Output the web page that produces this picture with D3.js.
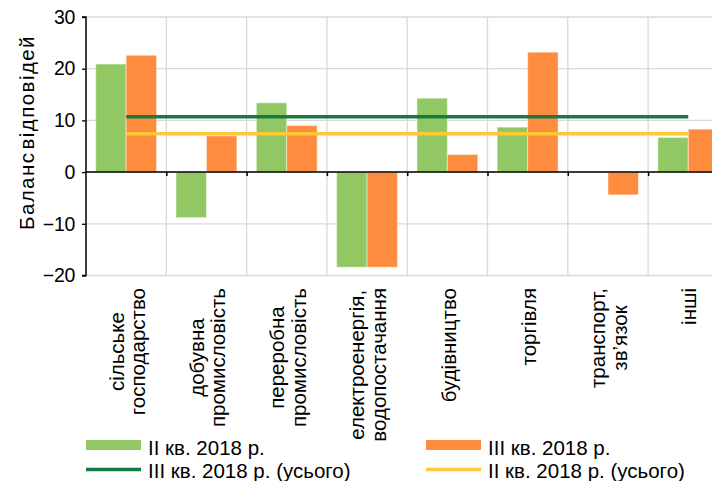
<!DOCTYPE html>
<html><head><meta charset="utf-8">
<script src="https://cdn.jsdelivr.net/npm/d3@7"></script>
<style>
html,body{margin:0;padding:0;background:#fff;overflow:hidden;}
text{font-family:"Liberation Sans",Arial,sans-serif;fill:#000;}
</style></head>
<body>
<svg id="chart" width="712" height="481"></svg>
<script>
const categories = [
  ["сільське","господарство"],
  ["добувна","промисловість"],
  ["переробна","промисловість"],
  ["електроенергія,","водопостачання"],
  ["будівництво"],
  ["торгівля"],
  ["транспорт,","зв’язок"],
  ["інші"]
];
const q2Values = [20.9, -8.8, 13.4, -18.4, 14.3, 8.7, 0, 6.7];
const q3Values = [22.6, 7.0, 9.0, -18.4, 3.4, 23.2, -4.4, 8.3];
const q3Total = [10.7, 10.7, 10.7, 10.7, 10.7, 10.7, 10.7, 10.7];
const q2Total = [7.4, 7.4, 7.4, 7.4, 7.4, 7.4, 7.4, 7.4];
const yTicks = [-20, -10, 0, 10, 20, 30];
const seriesNames = ["II кв. 2018 р.", "III кв. 2018 р.", "III кв. 2018 р. (усього)", "II кв. 2018 р. (усього)"];
const yTitle = "Баланс відповідей";

const C_GREEN = "#92c864", C_ORANGE = "#fd8c3f", C_DGREEN = "#167a45", C_YELLOW = "#fdca35";

const svg = d3.select("#chart");
const ids = categories.map((c,i)=>i);
const x = d3.scaleBand().domain(ids).range([86, 86 + 8*80.3]).padding(0);
const sub = d3.scaleBand().domain(["q2","q3"]).range([0, x.bandwidth()]).paddingInner(0).paddingOuter(0.32);
const y = d3.scaleLinear().domain([-20, 30]).range([275.5, 17]);

// gridlines
const grid = svg.append("g");
grid.selectAll("line.h").data(yTicks).join("line")
  .attr("x1", 86).attr("x2", 740).attr("y1", d=>y(d)).attr("y2", d=>y(d))
  .attr("stroke", "#d9d9d9").attr("stroke-width", 1.3);
grid.selectAll("line.v").data([1,2,3,4,5,6,7,8]).join("line")
  .attr("x1", d=>86 + d*x.step()).attr("x2", d=>86 + d*x.step())
  .attr("y1", y(30)).attr("y2", y(-20))
  .attr("stroke", "#d9d9d9").attr("stroke-width", 1.3);

// bars
const bars = svg.append("g");
const barData = [];
ids.forEach(i => {
  barData.push({i, k:"q2", v:q2Values[i]});
  barData.push({i, k:"q3", v:q3Values[i]});
});
bars.selectAll("rect").data(barData.filter(d=>d.v!==0)).join("rect")
  .attr("x", d=>x(d.i) + sub(d.k))
  .attr("width", sub.bandwidth())
  .attr("y", d=>y(Math.max(0,d.v)))
  .attr("height", d=>Math.abs(y(d.v)-y(0)))
  .attr("fill", d=>d.k==="q2"?C_GREEN:C_ORANGE)
  .attr("stroke", "rgba(255,255,255,0.45)").attr("stroke-width", 1);

// total lines
const line = d3.line().x((d,i)=>x(i)+x.bandwidth()/2).y(d=>y(d));
svg.append("path").datum(q2Total).attr("d", line).attr("fill","none").attr("stroke", C_YELLOW).attr("stroke-width", 3.5);
svg.append("path").datum(q3Total).attr("d", line).attr("fill","none").attr("stroke", C_DGREEN).attr("stroke-width", 3.5);

// y axis
const yAxis = d3.axisLeft(y).tickValues(yTicks).tickSize(4).tickPadding(4).tickFormat(d3.format("d"));
const ya = svg.append("g").attr("transform","translate(86,0)").call(yAxis);
ya.select(".domain").attr("stroke","#000").attr("stroke-width",1.5).attr("d", `M-4,${y(30)}H0V${y(-20)}H-4`);
ya.selectAll(".tick line").attr("stroke","#000").attr("stroke-width",1.3);
ya.selectAll(".tick text").attr("font-size", 19.5).attr("font-family", "Liberation Sans, Arial, sans-serif").attr("fill","#000").attr("dx", -3).attr("letter-spacing", -0.3);

// zero axis
const xAxis = d3.axisBottom(d3.scaleLinear().domain([0,8]).range([86, 86+8*80.3])).tickValues([1,2,3,4,5,6,7,8]).tickSize(4).tickFormat("");
const xa = svg.append("g").attr("transform", `translate(0,${y(0)})`).call(xAxis);
xa.select(".domain").attr("stroke","#000").attr("stroke-width",1.5).attr("d","M86,0H740");
xa.selectAll(".tick line").attr("stroke","#000").attr("stroke-width",1.5);

// y title
const yt = svg.append("text").attr("transform", `translate(34,132.5) rotate(-90)`)
  .attr("text-anchor","middle").attr("font-size", 20.5).attr("word-spacing", -5).text(yTitle);
{
  const len = yt.node().getComputedTextLength();
  const n = yTitle.length;
  yt.attr("letter-spacing", (195 - len) / n);
}

// category labels
const lab = svg.append("g");
categories.forEach((lines, i) => {
  const g = lab.append("g").attr("transform", `translate(${x(i)+x.bandwidth()/2 + 1},288) rotate(-90)`);
  const texts = lines.map((t, j) => g.append("text").attr("font-size", 20.5).text(t));
  const L = d3.max(texts, t => t.node().getComputedTextLength());
  const n = lines.length;
  texts.forEach((t, j) => {
    t.attr("text-anchor","middle").attr("x", -L/2)
     .attr("y", (j - (n-1)/2)*21.5).attr("dy","0.35em");
  });
});

// legend
const leg = svg.append("g");
const legItems = [
  {name: seriesNames[0], type:"rect", color:C_GREEN, x:86, y:455},
  {name: seriesNames[1], type:"rect", color:C_ORANGE, x:426, y:455},
  {name: seriesNames[2], type:"line", color:C_DGREEN, x:86, y:478},
  {name: seriesNames[3], type:"line", color:C_YELLOW, x:426, y:478}
];
legItems.forEach(it => {
  if (it.type === "rect") {
    leg.append("rect").attr("x", it.x).attr("y", it.y-15).attr("width", 55).attr("height", 10).attr("fill", it.color);
  } else {
    leg.append("line").attr("x1", it.x).attr("x2", it.x+55).attr("y1", it.y-8.5).attr("y2", it.y-8.5)
      .attr("stroke", it.color).attr("stroke-width", 3.5);
  }
  leg.append("text").attr("x", it.x+62).attr("y", it.y).attr("font-size", 20.5).text(it.name);
});
</script>
</body></html>
